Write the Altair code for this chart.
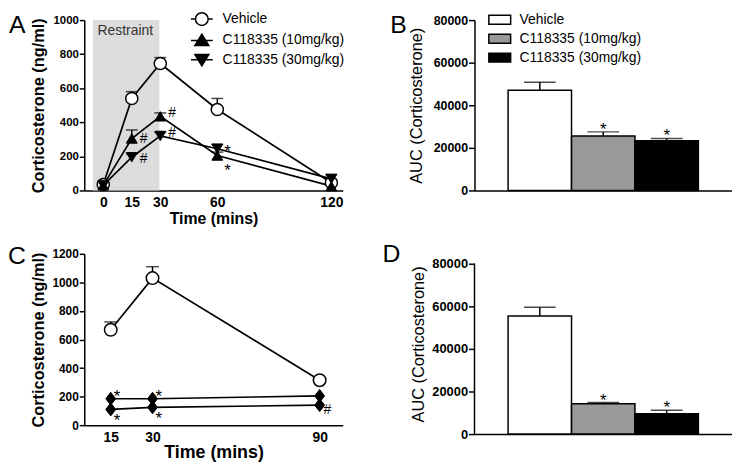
import altair as alt
import pandas as pd

FONT = "Liberation Sans"

# ---------------- data ----------------
series_names = ["Vehicle", "C118335 (10mg/kg)", "C118335 (30mg/kg)"]

# Panel A (time course, restraint)
times_a = [0, 15, 30, 60, 120]
veh_a = [35, 540, 745, 475, 45]
veh_a_err = [10, 40, 35, 65, 15]
c10_a = [30, 305, 435, 205, 25]
c10_a_err = [5, 50, 20, 20, 10]
c30_a = [30, 195, 320, 245, 68]
c30_a_err = [5, 20, 20, 25, 25]
ticks_a_y = [0, 200, 400, 600, 800, 1000]
restraint_window = [-5.5, 29.5]
restraint_label = ["Restraint"]

ann_a_x = [15, 30, 15, 30, 60, 60]
ann_a_y = [300, 455, 185, 335, 250, 140]
ann_a_t = ["#", "#", "#", "#", "*", "*"]

# Panel B (AUC)
auc_b = [47000, 25600, 23300]
auc_b_err = [3800, 1900, 1100]
auc_b_sig = ["", "*", "*"]
ticks_auc = [0, 20000, 40000, 60000, 80000]

# Panel C (time course)
times_c = [15, 30, 90]
veh_c = [668, 1030, 315]
veh_c_err = [55, 80, 10]
c10_c = [185, 185, 205]
c30_c = [110, 125, 140]
ticks_c_y = [0, 200, 400, 600, 800, 1000, 1200]
ann_c_x = [15, 15, 30, 30, 90]
ann_c_y = [225, 60, 222, 68, 105]
ann_c_t = ["*", "*", "*", "*", "#"]

# Panel D (AUC)
auc_d = [55400, 14300, 9600]
auc_d_err = [4200, 500, 1600]
auc_d_sig = ["", "*", "*"]

letters = ["A", "B", "C", "D"]

# ---------------- helpers ----------------
W1, W2 = 261, 260
H1 = 172
HC = 173
HD = 182
BLK = "black"
LW = 1.7
LETTER_SIZE = 25


def long_df(times, vals, errs, names):
    rows = []
    for name, v, e in zip(names, vals, errs):
        for t, y, er in zip(times, v, e):
            rows.append({"time": t, "value": y, "upper": y + er, "series": name})
    return pd.DataFrame(rows)


def letter(ch, dx, dy):
    return alt.Chart(pd.DataFrame({"t": [ch]})).mark_text(
        fontSize=LETTER_SIZE, align="left", baseline="alphabetic", font=FONT, color=BLK
    ).encode(text="t:N", x=alt.value(dx), y=alt.value(dy))


def marks_text(df, char, dx, dy, size):
    return alt.Chart(df).transform_filter(alt.datum.t == char).mark_text(
        align="left", baseline="middle", fontSize=size, dx=dx, dy=dy, font=FONT, color=BLK
    ).encode(x="x:Q", y="y:Q", text="t:N")


# ---------------- Panel A ----------------
dfa = long_df(times_a, [veh_a, c10_a, c30_a], [veh_a_err, c10_a_err, c30_a_err], series_names)
xa = alt.X("time:Q", scale=alt.Scale(domain=[-10, 126], nice=False),
           axis=alt.Axis(values=times_a, tickCount=len(times_a), title="Time (mins)", ticks=False,
                         labelPadding=5, labelFontSize=14, labelFontWeight="bold", titleFontSize=16,
                         titleFontWeight="bold", titlePadding=1, labelFlush=False,
                         labelOverlap=False))
ya = alt.Y("value:Q", scale=alt.Scale(domain=[0, 1000], nice=False),
           axis=alt.Axis(values=ticks_a_y, tickCount=len(ticks_a_y), format="d",
                         title="Corticosterone (ng/ml)", tickSize=5, labelPadding=1,
                         labelFontSize=11.5, labelFontWeight="bold", titleFontSize=16.5,
                         titleFontWeight="bold", titleX=-46.5, titleBaseline="middle",
                         labelOverlap=False))

shade = alt.Chart(pd.DataFrame({"x0": [restraint_window[0]], "x1": [restraint_window[1]]})).mark_rect(
    color="#dcdcdc").encode(x=alt.X("x0:Q"), x2="x1:Q", y=alt.datum(0), y2=alt.datum(1000))
restr = alt.Chart(pd.DataFrame({"t": restraint_label})).mark_text(
    align="left", baseline="middle", fontSize=14, color="#333333", font=FONT
).encode(text="t:N", x=alt.datum(-3), y=alt.datum(936))

base_a = alt.Chart(dfa)
lines_a = base_a.mark_line(color=BLK, strokeWidth=LW).encode(x=xa, y=ya, detail="series:N", order="time:Q")
err_a = base_a.mark_rule(color=BLK, strokeWidth=1.5).encode(x="time:Q", y="value:Q", y2="upper:Q")
cap_a = base_a.mark_tick(color=BLK, orient="horizontal", size=12, thickness=1.5).encode(x="time:Q", y="upper:Q")
pt_veh = base_a.transform_filter(alt.datum.series == series_names[0]).mark_point(
    shape="circle", filled=True, fill="white", stroke=BLK, strokeWidth=1.5, size=150, opacity=1
).encode(x="time:Q", y="value:Q")
pt_c10 = base_a.transform_filter(alt.datum.series == series_names[1]).mark_point(
    shape="triangle-up", filled=True, fill=BLK, stroke=BLK, strokeWidth=1, size=120, opacity=1
).encode(x="time:Q", y="value:Q")
pt_c30 = base_a.transform_filter(alt.datum.series == series_names[2]).mark_point(
    shape="triangle-down", filled=True, fill=BLK, stroke=BLK, strokeWidth=1, size=120, opacity=1
).encode(x="time:Q", y="value:Q")

# legend symbols (unit = 8 px): circle / up / down triangle with a line through them
leg_paths = [
    "M0.8,0A0.8,0.8,0,1,1,-0.8,0A0.8,0.8,0,1,1,0.8,0Z M-1.375,0H-0.8 M0.8,0H1.375",
    "M-1.375,0H1.375 M0,-0.78L0.88,0.66L-0.88,0.66Z",
    "M-1.375,0H1.375 M0,0.78L0.88,-0.66L-0.88,-0.66Z",
]
leg_a = alt.Legend(title=None, orient="none", legendX=109.7, legendY=-10, labelFontSize=14,
                   labelFont=FONT, labelColor=BLK, symbolSize=256, rowPadding=1.5, labelOffset=12,
                   padding=0, symbolOpacity=1, symbolStrokeWidth=1.5, labelLimit=300)
legend_layer_a = base_a.mark_point(filled=True, opacity=0, strokeWidth=1.5).encode(
    x="time:Q", y="value:Q",
    shape=alt.Shape("series:N", scale=alt.Scale(domain=series_names, range=leg_paths), legend=leg_a),
    fill=alt.Fill("series:N", scale=alt.Scale(domain=series_names, range=["white", BLK, BLK]), legend=leg_a),
    stroke=alt.Stroke("series:N", scale=alt.Scale(domain=series_names, range=[BLK, BLK, BLK]), legend=leg_a),
)

dfann_a = pd.DataFrame({"x": ann_a_x, "y": ann_a_y, "t": ann_a_t})
panel_a = alt.layer(shade, restr, lines_a, err_a, cap_a, pt_veh, pt_c10, pt_c30, legend_layer_a,
                    marks_text(dfann_a, "#", 8, 0, 14), marks_text(dfann_a, "*", 7, 4, 17),
                    letter(letters[0], -76, 13.5)).properties(width=W1, height=H1)


# ---------------- Panels B, D ----------------
def auc_panel(vals, errs, sig, height, ymax, show_legend, title_x, label_size, let, let_dx, let_dy, own_domain):
    df = pd.DataFrame({"group": series_names, "auc": vals,
                       "upper": [v + e for v, e in zip(vals, errs)], "sig": sig})
    xb = alt.X("group:N", sort=series_names,
               scale=alt.Scale(domain=series_names, paddingInner=0, paddingOuter=0.53),
               axis=alt.Axis(labels=False, ticks=False, title=None))
    yb = alt.Y("auc:Q", scale=alt.Scale(domain=[0, ymax], nice=False),
               axis=alt.Axis(values=ticks_auc, tickCount=len(ticks_auc), format="d",
                             title="AUC (Corticosterone)", tickSize=6, labelPadding=1,
                             labelFontSize=label_size, labelFontWeight="bold", titleFontSize=16.5,
                             titleFontWeight="normal", titleX=title_x, titleBaseline="middle",
                             domain=not own_domain, labelOverlap=False))
    if show_legend:
        leg = alt.Legend(title=None, orient="none", legendX=16.5, legendY=-9.3, labelFontSize=14,
                         labelFont=FONT, labelColor=BLK, symbolSize=256, rowPadding=2.1,
                         labelOffset=11, padding=0, symbolType="M-1.375,-0.56H1.375V0.56H-1.375Z",
                         symbolStrokeColor=BLK, symbolStrokeWidth=1.5, labelLimit=300)
    else:
        leg = None
    base = alt.Chart(df)
    bars = base.mark_bar(stroke=BLK, strokeWidth=1.5).encode(
        x=xb, y=yb,
        fill=alt.Fill("group:N", scale=alt.Scale(domain=series_names, range=["white", "#999999", BLK]),
                      legend=leg))
    err = base.mark_rule(color=BLK, strokeWidth=1.5).encode(x="group:N", y="auc:Q", y2="upper:Q")
    cap = base.mark_tick(color=BLK, orient="horizontal", size=32, thickness=1.5).encode(
        x="group:N", y="upper:Q")
    star = base.mark_text(align="center", baseline="alphabetic", fontSize=17, dy=3, font=FONT,
                          color=BLK).encode(x="group:N", y="upper:Q", text="sig:N")
    layers = [bars, err, cap, star, letter(let, let_dx, let_dy)]
    if own_domain:
        layers.append(alt.Chart(pd.DataFrame({"v": [0]})).mark_rule(color=BLK, strokeWidth=1.5).encode(
            x=alt.value(0), y=alt.datum(ticks_auc[0]), y2=alt.datum(ticks_auc[-1])))
    return alt.layer(*layers).properties(width=W2, height=height)


panel_b = auc_panel(auc_b, auc_b_err, auc_b_sig, H1, ticks_auc[-1], True, -58, 12.5,
                    letters[1], -85, 13.5, False)
panel_d = auc_panel(auc_d, auc_d_err, auc_d_sig, HD, ticks_auc[-1] * HD / (HD - 10), False, -56.5, 13,
                    letters[3], -93, 8.5, True)

# ---------------- Panel C ----------------
dfc = long_df(times_c, [veh_c, c10_c, c30_c], [veh_c_err, [0, 0, 0], [0, 0, 0]], series_names)
xc = alt.X("time:Q", scale=alt.Scale(domain=[5.5, 98.3], nice=False),
           axis=alt.Axis(values=times_c, tickCount=len(times_c), title="Time (mins)", ticks=False,
                         labelPadding=5, labelFontSize=14, labelFontWeight="bold", titleFontSize=18,
                         titleFontWeight="bold", titlePadding=0, labelFlush=False,
                         labelOverlap=False))
yc = alt.Y("value:Q", scale=alt.Scale(domain=[0, 1200], nice=False),
           axis=alt.Axis(values=ticks_c_y, tickCount=len(ticks_c_y), format="d",
                         title="Corticosterone (ng/ml)", tickSize=5, labelPadding=1,
                         labelFontSize=12, labelFontWeight="bold", titleFontSize=16.5,
                         titleFontWeight="bold", titleX=-46.5, titleBaseline="middle",
                         labelOverlap=False))
base_c = alt.Chart(dfc)
lines_c = base_c.mark_line(color=BLK, strokeWidth=LW).encode(x=xc, y=yc, detail="series:N", order="time:Q")
err_c = base_c.transform_filter(alt.datum.series == series_names[0]).mark_rule(
    color=BLK, strokeWidth=1.5).encode(x="time:Q", y="value:Q", y2="upper:Q")
cap_c = base_c.transform_filter(alt.datum.series == series_names[0]).mark_tick(
    color=BLK, orient="horizontal", size=13, thickness=1.5).encode(x="time:Q", y="upper:Q")
pt_veh_c = base_c.transform_filter(alt.datum.series == series_names[0]).mark_point(
    shape="circle", filled=True, fill="white", stroke=BLK, strokeWidth=1.5, size=160, opacity=1
).encode(x="time:Q", y="value:Q")
pt_dia_c = base_c.transform_filter(alt.datum.series != series_names[0]).mark_point(
    shape="M0,-1L0.77,0L0,1L-0.77,0Z", filled=True, fill=BLK, stroke=BLK, strokeWidth=1, size=169,
    opacity=1).encode(x="time:Q", y="value:Q")
dfann_c = pd.DataFrame({"x": ann_c_x, "y": ann_c_y, "t": ann_c_t})

panel_c = alt.layer(lines_c, err_c, cap_c, pt_veh_c, pt_dia_c,
                    marks_text(dfann_c, "#", 4, 0, 14), marks_text(dfann_c, "*", 3, 4, 17),
                    letter(letters[2], -77, 10)).properties(width=W1, height=HC)

chart = alt.concat(panel_a, panel_b, panel_c, panel_d, columns=2,
                   spacing={"row": 64, "column": 133}, bounds="flush").resolve_scale(
    x="independent", y="independent", fill="independent", shape="independent", stroke="independent"
).resolve_legend(fill="independent", shape="independent", stroke="independent").properties(
    padding=0
).configure(font=FONT).configure_view(stroke=None).configure_axis(
    grid=False, domainColor=BLK, domainWidth=1.5, tickColor=BLK, tickWidth=1.5,
    labelColor=BLK, titleColor=BLK, labelFont=FONT, titleFont=FONT, labelOverlap=False
)

chart.save("out.html", embed_options={"renderer": "svg", "actions": False})
